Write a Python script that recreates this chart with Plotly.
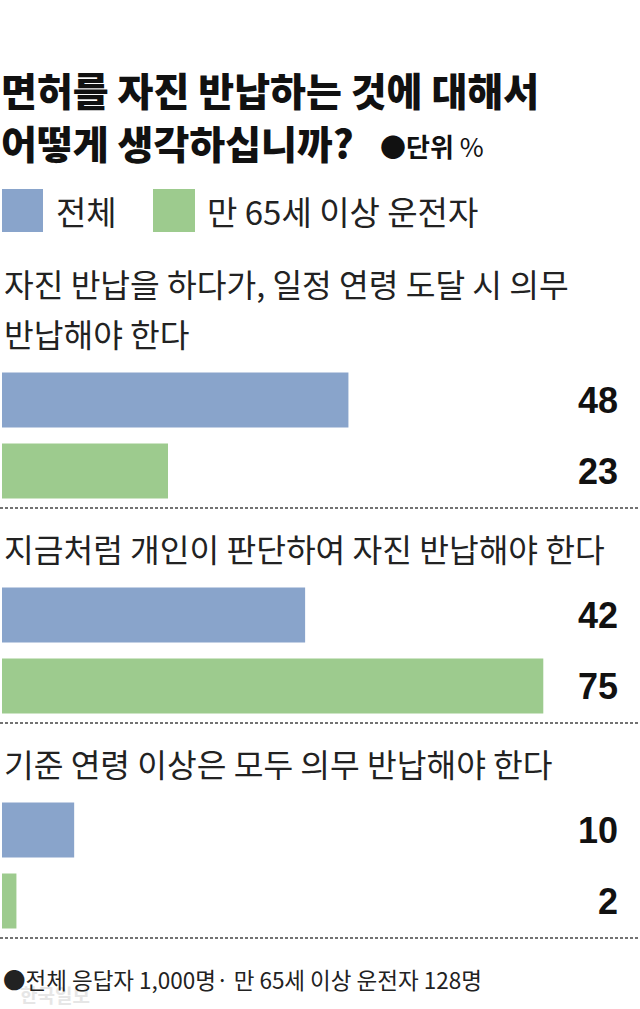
import plotly.graph_objects as go

# ---- data ----
title_lines = ["면허를 자진 반납하는 것에 대해서", "어떻게 생각하십니까?"]
unit_label = "●단위"
unit_sign = "%"
categories = [
    ["자진 반납을 하다가, 일정 연령 도달 시 의무", "반납해야 한다"],
    ["지금처럼 개인이 판단하여 자진 반납해야 한다"],
    ["기준 연령 이상은 모두 의무 반납해야 한다"],
]
series_names = ["전체", "만 65세 이상 운전자"]
total_values = [48, 42, 10]
senior_values = [23, 75, 2]
footnote = "●전체 응답자 1,000명· 만 65세 이상 운전자 128명"
watermark = "한국일보"

# ---- style ----
W, H = 640, 1009
colors = ["#89A4CB", "#9DCB8E"]
FONT = "Noto Sans CJK KR"
group_px = [(364.5, 506.5), (579.5, 721.5), (794.5, 936.5)]  # top, bottom in px
x_max = 88.4


def yp(p):
    return 1 - p / H


def xp(p):
    return p / W


fig = go.Figure()
annotations = []
shapes = []

for i, lines in enumerate(categories):
    sfx = "" if i == 0 else str(i + 1)
    vals = [total_values[i], senior_values[i]]
    fig.add_trace(go.Bar(
        x=vals, y=series_names, orientation="h",
        marker=dict(color=colors, line=dict(width=0)),
        xaxis="x" + sfx, yaxis="y" + sfx,
        showlegend=False, hoverinfo="x",
    ))
    top, bot = group_px[i]
    fig.layout["xaxis" + sfx] = dict(
        domain=[xp(2), 1], range=[0, x_max], visible=False,
        anchor="y" + sfx, fixedrange=True,
    )
    fig.layout["yaxis" + sfx] = dict(
        domain=[yp(bot), yp(top)], type="category",
        categoryorder="array", categoryarray=series_names,
        range=[1.5, -0.5], visible=False, anchor="x" + sfx, fixedrange=True,
    )
    # value labels
    for s, v in enumerate(vals):
        annotations.append(dict(
            text=str(v), xref="paper", x=xp(620), xanchor="right",
            yref="y" + sfx, y=series_names[s], yanchor="middle",
            showarrow=False,
            font=dict(family="Liberation Sans", size=36, color="#111111", weight=700),
        ))
    # category labels
    n = len(lines)
    for k, line in enumerate(lines):
        cy = top - 31.5 - (n - 1 - k) * 50
        annotations.append(dict(
            text=line, xref="paper", x=xp(2), xanchor="left",
            yref="paper", y=yp(cy), yanchor="middle", showarrow=False,
            font=dict(family=FONT, size=32.3, color="#222222"),
        ))
    # dashed separator
    sep = bot + 1.5
    shapes.append(dict(
        type="line", xref="paper", yref="paper", x0=0, x1=1,
        y0=yp(sep), y1=yp(sep),
        line=dict(color="#444444", width=1.5, dash="3px,2px"),
    ))

# title
for k, t in enumerate(title_lines):
    annotations.append(dict(
        text=t, xref="paper", x=xp(-1), xanchor="left",
        yref="paper", y=yp([89, 142][k]), yanchor="middle", showarrow=False,
        font=dict(family=FONT, size=39, color="#111111", weight=900),
    ))
annotations.append(dict(
    text=f"<b>{unit_label}</b> {unit_sign}", xref="paper", x=xp(378), xanchor="left",
    yref="paper", y=yp(145), yanchor="middle", showarrow=False,
    font=dict(family=FONT, size=26, color="#111111"),
))

# legend
legend_x = [(2, 43, 54), (153, 195, 205)]
for s, name in enumerate(series_names):
    x0, x1, tx = legend_x[s]
    shapes.append(dict(
        type="rect", xref="paper", yref="paper",
        x0=xp(x0), x1=xp(x1), y0=yp(232), y1=yp(189),
        fillcolor=colors[s], line=dict(width=0),
    ))
    annotations.append(dict(
        text=name, xref="paper", x=xp(tx), xanchor="left",
        yref="paper", y=yp(211), yanchor="middle", showarrow=False,
        font=dict(family=FONT, size=33, color="#222222"),
    ))

# footnote and watermark
annotations.append(dict(
    text=watermark, xref="paper", x=xp(18), xanchor="left",
    yref="paper", y=yp(994), yanchor="middle", showarrow=False,
    font=dict(family=FONT, size=19, color="#E6E6E6", weight=700),
))
annotations.append(dict(
    text=footnote, xref="paper", x=xp(1), xanchor="left",
    yref="paper", y=yp(979), yanchor="middle", showarrow=False,
    font=dict(family=FONT, size=22.5, color="#222222"),
))

fig.update_layout(
    width=W, height=H, autosize=False,
    margin=dict(l=0, r=0, t=0, b=0),
    paper_bgcolor="white", plot_bgcolor="white",
    bargap=0.225, barmode="overlay",
    annotations=annotations, shapes=shapes,
    showlegend=False,
)

fig.write_html(
    "out.html",
    config={"displayModeBar": False},
    post_script="document.body.style.margin='0';",
)
